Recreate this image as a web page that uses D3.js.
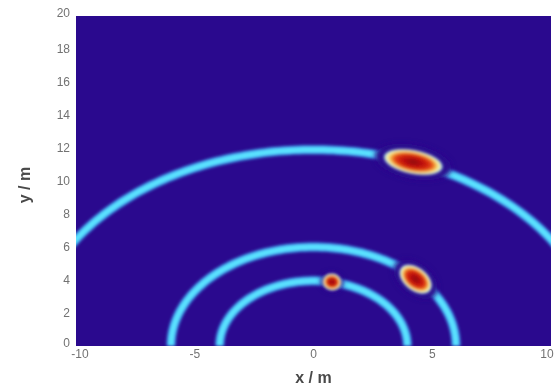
<!DOCTYPE html>
<html>
<head>
<meta charset="utf-8">
<script src="https://cdn.jsdelivr.net/npm/d3@7"></script>
<style>
  body { margin: 0; background: #fff; }
  text { font-family: "Liberation Sans", Arial, sans-serif; }
</style>
</head>
<body>
<div id="chart"></div>
<script>
// ring radii (m), centred on the origin
const ringRadius = [3.95, 6.0, 11.9];

// hot spots sitting on the rings
const spotX = [0.78, 4.3, 4.2];
const spotY = [3.88, 4.05, 11.15];

const xTicks = [-10, -5, 0, 5, 10];
const yTicks = [0, 2, 4, 6, 8, 10, 12, 14, 16, 18, 20];

const width = 554, height = 388;
const margin = { top: 16, right: 3, bottom: 42, left: 76 };

const svg = d3.select("#chart").append("svg")
  .attr("width", width)
  .attr("height", height);

const x = d3.scaleLinear().domain([-10, 10]).range([margin.left, width - margin.right]);
const y = d3.scaleLinear().domain([0, 20]).range([height - margin.bottom, margin.top]);

const defs = svg.append("defs");
defs.append("clipPath").attr("id", "plot")
  .append("rect")
  .attr("x", x(-10)).attr("y", y(20))
  .attr("width", x(10) - x(-10)).attr("height", y(0) - y(20));

defs.append("filter").attr("id", "soft").attr("x", "-20%").attr("y", "-20%").attr("width", "140%").attr("height", "140%")
  .append("feGaussianBlur").attr("stdDeviation", 1.4);
defs.append("filter").attr("id", "soft2").attr("x", "-50%").attr("y", "-50%").attr("width", "200%").attr("height", "200%")
  .append("feGaussianBlur").attr("stdDeviation", 2.5);
defs.append("filter").attr("id", "textblur")
  .append("feGaussianBlur").attr("stdDeviation", 0.5);

const grad = defs.append("radialGradient").attr("id", "hot");
[[0, "#8c0406"], [0.35, "#c0100e"], [0.6, "#e03a14"], [0.72, "#f08a2a"],
 [0.82, "#f6dc70"], [0.91, "#f0f4c0"], [1, "#6ab8ee"]].forEach(s => {
  grad.append("stop").attr("offset", s[0]).attr("stop-color", s[1]);
});

const bg = "#2a098e";
const plot = svg.append("g").attr("clip-path", "url(#plot)");

plot.append("rect")
  .attr("x", x(-10)).attr("y", y(20))
  .attr("width", x(10) - x(-10)).attr("height", y(0) - y(20))
  .attr("fill", bg);

const angles = d3.range(0, 181, 1).map(d => d * Math.PI / 180);
const line = d3.line()
  .x(d => x(d[0]))
  .y(d => y(d[1]));

const rings = plot.append("g").attr("filter", "url(#soft)");
rings.selectAll("path.ring")
  .data(ringRadius)
  .join("path")
  .attr("class", "ring")
  .attr("fill", "none")
  .attr("stroke", "#3fa6f2")
  .attr("stroke-width", 9)
  .attr("d", r => line(angles.map(a => [r * Math.cos(a), r * Math.sin(a)])));
rings.selectAll("path.core")
  .data(ringRadius)
  .join("path")
  .attr("class", "core")
  .attr("fill", "none")
  .attr("stroke", "#5ce4ff")
  .attr("stroke-width", 5)
  .attr("d", r => line(angles.map(a => [r * Math.cos(a), r * Math.sin(a)])));

// pixel shape of each spot: semi-axes and tilt
const spotShape = [
  { rx: 9.5, ry: 8.5, rot: 10, gap: 2 },
  { rx: 18.5, ry: 11.5, rot: 38, gap: 7 },
  { rx: 30, ry: 12, rot: 11, gap: 9 }
];

const spots = spotX.map((d, i) => ({ x: d, y: spotY[i], s: spotShape[i] }));

plot.append("g").attr("filter", "url(#soft2)")
  .selectAll("ellipse")
  .data(spots)
  .join("ellipse")
  .attr("transform", d => `translate(${x(d.x)},${y(d.y)}) rotate(${d.s.rot})`)
  .attr("rx", d => d.s.rx + d.s.gap)
  .attr("ry", d => d.s.ry + d.s.gap * 0.6)
  .attr("fill", bg);

plot.append("g").attr("filter", "url(#soft)")
  .selectAll("ellipse")
  .data(spots)
  .join("ellipse")
  .attr("transform", d => `translate(${x(d.x)},${y(d.y)}) rotate(${d.s.rot})`)
  .attr("rx", d => d.s.rx)
  .attr("ry", d => d.s.ry)
  .attr("fill", "url(#hot)");

// axes
const axes = svg.append("g").attr("filter", "url(#textblur)");

axes.selectAll("text.xt")
  .data(xTicks)
  .join("text")
  .attr("class", "xt")
  .attr("x", d => x(d) + (d === -10 ? 4 : 0) - (d === 10 ? 4 : 0))
  .attr("y", y(0) + 12)
  .attr("text-anchor", "middle")
  .attr("font-size", 12)
  .attr("fill", "#727272")
  .text(d => d);

axes.selectAll("text.yt")
  .data(yTicks)
  .join("text")
  .attr("class", "yt")
  .attr("x", x(-10) - 6)
  .attr("y", d => y(d) - (d === 0 ? 3 : 0) + (d === 20 ? -3 : 0))
  .attr("dy", "0.35em")
  .attr("text-anchor", "end")
  .attr("font-size", 12)
  .attr("fill", "#727272")
  .text(d => d);

axes.append("text")
  .attr("x", x(0))
  .attr("y", height - 5)
  .attr("text-anchor", "middle")
  .attr("font-size", 16)
  .attr("font-weight", "bold")
  .attr("fill", "#4a4a4a")
  .text("x / m");

axes.append("text")
  .attr("transform", `translate(30,${(y(0) + y(20)) / 2 + 4}) rotate(-90)`)
  .attr("text-anchor", "middle")
  .attr("font-size", 16)
  .attr("font-weight", "bold")
  .attr("fill", "#4a4a4a")
  .text("y / m");
</script>
</body>
</html>
